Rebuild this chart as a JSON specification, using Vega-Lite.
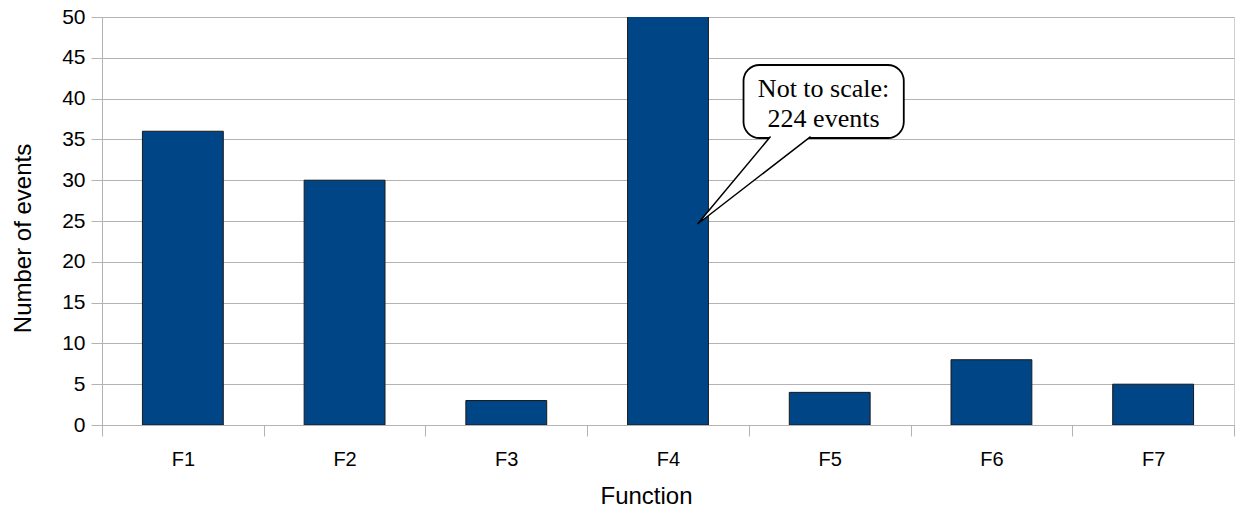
{
  "$schema": "https://vega.github.io/schema/vega-lite/v6.json",
  "width": 1132,
  "height": 408,
  "autosize": "none",
  "padding": {"left": 102, "top": 17, "right": 1, "bottom": 86},
  "background": "white",
  "config": {
    "view": {"stroke": "#d0d0d0", "strokeWidth": 1},
    "font": "Liberation Sans",
    "axis": {
      "labelFont": "Liberation Sans",
      "titleFont": "Liberation Sans",
      "labelColor": "#000",
      "titleColor": "#000",
      "titleFontWeight": "normal",
      "labelFontSize": 20,
      "titleFontSize": 24,
      "gridColor": "#b3b3b3",
      "domainColor": "#b3b3b3",
      "tickColor": "#b3b3b3"
    }
  },
  "datasets": {
    "bars": [
      {"function": "F1", "events": 36},
      {"function": "F2", "events": 30},
      {"function": "F3", "events": 3},
      {"function": "F4", "events": 224},
      {"function": "F5", "events": 4},
      {"function": "F6", "events": 8},
      {"function": "F7", "events": 5}
    ],
    "bubble": [{"x1": 3.967, "x2": 4.958, "y1": 35.17, "y2": 44.12}],
    "pointer": [
      {"px": 4.134, "py": 35.35, "o": 1},
      {"px": 3.683, "py": 24.63, "o": 2},
      {"px": 4.382, "py": 35.35, "o": 3}
    ],
    "label": [
      {"tx": 4.462, "ty": 40.2, "text": "Not to scale:"},
      {"tx": 4.462, "ty": 36.52, "text": "224 events"}
    ]
  },
  "layer": [
    {
      "data": {"name": "bars"},
      "mark": {"type": "bar", "color": "#004586", "stroke": "#1a1a1a", "strokeWidth": 1, "clip": true, "width": {"band": 0.5}},
      "encoding": {
        "x": {
          "field": "function", "type": "nominal", "title": "Function",
          "scale": {"paddingInner": 0, "paddingOuter": 0},
          "axis": {"labelAngle": 0, "tickBand": "extent", "tickSize": 11, "labelPadding": 13, "titlePadding": 15, "titleX": 544, "grid": false}
        },
        "y": {
          "field": "events", "type": "quantitative", "title": "Number of events",
          "scale": {"domain": [0, 50], "nice": false},
          "axis": {"values": [0, 5, 10, 15, 20, 25, 30, 35, 40, 45, 50], "tickSize": 11, "labelPadding": 6, "labelFontSize": 21, "titlePadding": 26, "titleY": 221, "grid": true}
        }
      }
    },
    {
      "data": {"name": "bubble"},
      "mark": {"type": "rect", "fill": "white", "stroke": "black", "strokeWidth": 1.8, "cornerRadius": 16},
      "encoding": {
        "x": {"field": "x1", "type": "quantitative", "scale": {"domain": [0, 7], "nice": false, "zero": false}, "axis": null},
        "x2": {"field": "x2"},
        "y": {"field": "y1", "type": "quantitative"},
        "y2": {"field": "y2"}
      }
    },
    {
      "data": {"name": "pointer"},
      "mark": {"type": "line", "fill": "white", "stroke": "black", "strokeWidth": 1.5, "interpolate": "linear"},
      "encoding": {
        "x": {"field": "px", "type": "quantitative", "scale": {"domain": [0, 7], "nice": false, "zero": false}, "axis": null},
        "y": {"field": "py", "type": "quantitative"},
        "order": {"field": "o"}
      }
    },
    {
      "data": {"name": "label"},
      "mark": {"type": "text", "font": "Liberation Serif", "fontSize": 26, "color": "black", "align": "center", "baseline": "alphabetic"},
      "encoding": {
        "x": {"field": "tx", "type": "quantitative", "scale": {"domain": [0, 7], "nice": false, "zero": false}, "axis": null},
        "y": {"field": "ty", "type": "quantitative"},
        "text": {"field": "text"}
      }
    }
  ],
  "resolve": {"scale": {"x": "independent"}}
}
